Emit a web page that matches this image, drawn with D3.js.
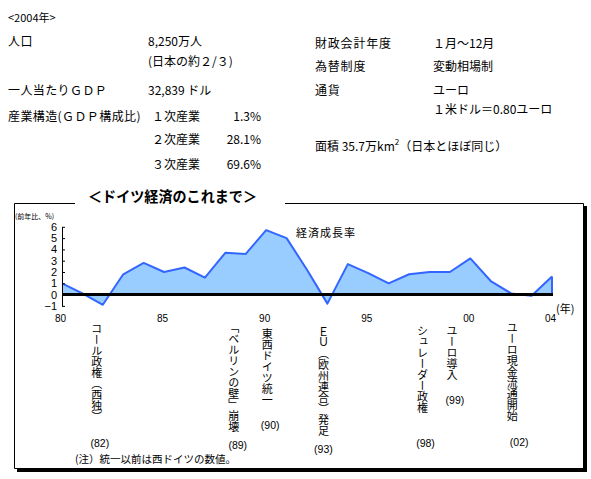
<!DOCTYPE html>
<html>
<head>
<meta charset="utf-8">
<script src="https://cdn.jsdelivr.net/npm/d3@7"></script>
<style>
  body { margin: 0; background: #fff; }
  svg { display: block; font-family: "Noto Sans CJK JP", sans-serif; }
  .num { font-family: "Liberation Sans", Arial, sans-serif; }
</style>
</head>
<body>
<svg id="chart" width="591" height="479"></svg>
<script>
// data
var years   = [1980, 1981, 1982, 1983, 1984, 1985, 1986, 1987, 1988, 1989, 1990, 1991, 1992,
               1993, 1994, 1995, 1996, 1997, 1998, 1999, 2000, 2001, 2002, 2003, 2004];
var growth  = [1.0, 0.1, -0.9, 1.8, 2.8, 2.0, 2.4, 1.5, 3.7, 3.6, 5.7, 5.0, 2.2,
               -0.8, 2.7, 1.9, 1.0, 1.8, 2.0, 2.0, 3.2, 1.2, 0.1, -0.1, 1.6];
var yTicks      = [-1, 0, 1, 2, 3, 4, 5, 6];
var xTickYears  = [1980, 1985, 1990, 1995, 2000, 2004];
var xTickLabels = ["80", "85", "90", "95", "00", "04"];

var eventYears  = [1982, 1989, 1990, 1993, 1998, 1999, 2002];
var eventLabels = ["コール政権（西独）", "「ベルリンの壁」崩壊", "東西ドイツ統一",
                   "ＥＵ（欧州連合）発足", "シュレーダー政権", "ユーロ導入", "ユーロ現金流通開始"];
var eventTags   = ["(82)", "(89)", "(90)", "(93)", "(98)", "(99)", "(02)"];

var infoLeft  = [["人口", "8,250万人"], ["", "(日本の約２/３)"], ["一人当たりＧＤＰ", "32,839 ドル"],
                 ["産業構造(ＧＤＰ構成比)", ""]];
var sectors   = ["１次産業", "２次産業", "３次産業"];
var sectorPct = ["1.3%", "28.1%", "69.6%"];
var infoRight = [["財政会計年度", "１月～12月"], ["為替制度", "変動相場制"], ["通貨", "ユーロ"],
                 ["", "１米ドル＝0.80ユーロ"]];

var svg = d3.select("#chart");

// ---- header block ----
svg.append("text").attr("x", 8).attr("y", 17).attr("dominant-baseline", "central")
   .attr("font-size", 11).text("<2004年>");

var leftRowsY = [40, 60, 89, 115];
infoLeft.forEach(function (r, i) {
  svg.append("text").attr("x", 8).attr("y", leftRowsY[i]).attr("dominant-baseline", "central")
     .attr("font-size", 12).attr("letter-spacing", 0.4).text(r[0]);
  svg.append("text").attr("x", 148).attr("y", leftRowsY[i]).attr("dominant-baseline", "central")
     .attr("font-size", 12).text(r[1]);
});

var sectorY = [115, 138, 163];
sectors.forEach(function (s, i) {
  svg.append("rect").attr("x", 150).attr("y", sectorY[i] - 8).attr("width", 4).attr("height", 16).attr("fill", "#fff");
  svg.append("text").attr("x", 152).attr("y", sectorY[i]).attr("dominant-baseline", "central")
     .attr("font-size", 12).text(s);
  svg.append("text").attr("x", 261).attr("y", sectorY[i]).attr("dominant-baseline", "central")
     .attr("text-anchor", "end").attr("font-size", 12).text(sectorPct[i]);
});

var rightRowsY = [42, 65, 89, 108];
infoRight.forEach(function (r, i) {
  svg.append("text").attr("x", 315).attr("y", rightRowsY[i]).attr("dominant-baseline", "central")
     .attr("font-size", 12).attr("letter-spacing", 0.8).text(r[0]);
  svg.append("text").attr("x", 433).attr("y", rightRowsY[i]).attr("dominant-baseline", "central")
     .attr("font-size", 12).text(r[1]);
});
var area = svg.append("text").attr("x", 315).attr("y", 145).attr("dominant-baseline", "central")
   .attr("font-size", 12);
area.append("tspan").text("面積 35.7万km");
area.append("tspan").attr("font-size", 8).attr("dy", -4).text("2");
area.append("tspan").attr("dy", 4).text("（日本とほぼ同じ）");

// ---- frame with shadow ----
svg.append("rect").attr("x", 17).attr("y", 468).attr("width", 570).attr("height", 4).attr("fill", "#000");
svg.append("rect").attr("x", 583).attr("y", 206).attr("width", 4).attr("height", 266).attr("fill", "#000");
svg.append("path")
   .attr("d", "M75,203.5H14.5V468.5H583.5V203.5H285")
   .attr("fill", "none").attr("stroke", "#000").attr("stroke-width", 1);

svg.append("text").attr("x", 88).attr("y", 195).attr("dominant-baseline", "central")
   .attr("font-size", 15).attr("font-weight", "bold")
   .attr("textLength", 169).attr("lengthAdjust", "spacingAndGlyphs")
   .text("＜ドイツ経済のこれまで＞");

// ---- chart ----
var x = d3.scaleLinear().domain([1980, 2004]).range([62, 552]);
var y = d3.scaleLinear().domain([-1, 6]).range([305.9, 226.8]);

var pts = years.map(function (yr, i) { return { yr: yr, v: growth[i] }; });

svg.append("path").datum(pts)
   .attr("fill", "#99ccff")
   .attr("d", d3.area().x(function (d) { return x(d.yr); }).y0(y(0)).y1(function (d) { return y(d.v); }));

svg.append("path").datum(pts)
   .attr("fill", "none").attr("stroke", "#3366ff").attr("stroke-width", 2)
   .attr("stroke-linejoin", "round")
   .attr("d", d3.line().x(function (d) { return x(d.yr); }).y(function (d) { return y(d.v); }));

var last = pts[pts.length - 1];
svg.append("line")
   .attr("x1", x(last.yr)).attr("x2", x(last.yr)).attr("y1", y(last.v)).attr("y2", y(0))
   .attr("stroke", "#3366ff").attr("stroke-width", 2);

var yAxis = svg.append("g").attr("class", "num").attr("transform", "translate(62,0)")
   .call(d3.axisLeft(y).tickValues(yTicks).tickFormat(d3.format("d"))
           .tickSizeInner(-3).tickSizeOuter(0).tickPadding(5));
yAxis.selectAll("text").attr("font-size", 11).attr("fill", "#000");
yAxis.selectAll("line, path").attr("stroke", "#000");

svg.append("line")
   .attr("x1", x(1980)).attr("x2", x(2004) + 1).attr("y1", y(0)).attr("y2", y(0))
   .attr("stroke", "#000").attr("stroke-width", 3);

var xAxis = svg.append("g").attr("class", "num").attr("transform", "translate(-2,312)")
   .call(d3.axisBottom(x).tickValues(xTickYears).tickSize(0).tickPadding(3)
           .tickFormat(function (d, i) { return xTickLabels[i]; }));
xAxis.select(".domain").remove();
xAxis.selectAll("text").attr("font-size", 10).attr("fill", "#000");

svg.append("text").attr("x", 15).attr("y", 216).attr("dominant-baseline", "central")
   .attr("font-size", 7).text("(前年比、%)");
svg.append("text").attr("x", 296).attr("y", 232).attr("dominant-baseline", "central")
   .attr("font-size", 11).attr("letter-spacing", 1).text("経済成長率");
svg.append("text").attr("x", 556).attr("y", 308).attr("dominant-baseline", "central")
   .attr("font-size", 11).text("(年)");

// ---- events (vertical text) ----
var evDx   = [-6, -12, 1, -4, -7, 2, 1];
var evTop  = [323, 322, 328, 326, 325, 325, 322];
var tagDx  = [-3, -8, 4, -4, -4, 5, 8];
var tagY   = [443, 445, 425, 449, 443, 400, 442];

eventYears.forEach(function (yr, i) {
  svg.append("text")
     .attr("x", x(yr) + evDx[i]).attr("y", evTop[i])
     .attr("font-size", 11)
     .style("writing-mode", "vertical-rl")
     .text(eventLabels[i]);
  svg.append("text").attr("class", "num")
     .attr("x", x(yr) + tagDx[i]).attr("y", tagY[i])
     .attr("text-anchor", "middle").attr("dominant-baseline", "central")
     .attr("font-size", 10.5).text(eventTags[i]);
});

svg.append("text").attr("x", 75).attr("y", 458).attr("dominant-baseline", "central")
   .attr("font-size", 10.5).text("(注）統一以前は西ドイツの数値。");
</script>
</body>
</html>
